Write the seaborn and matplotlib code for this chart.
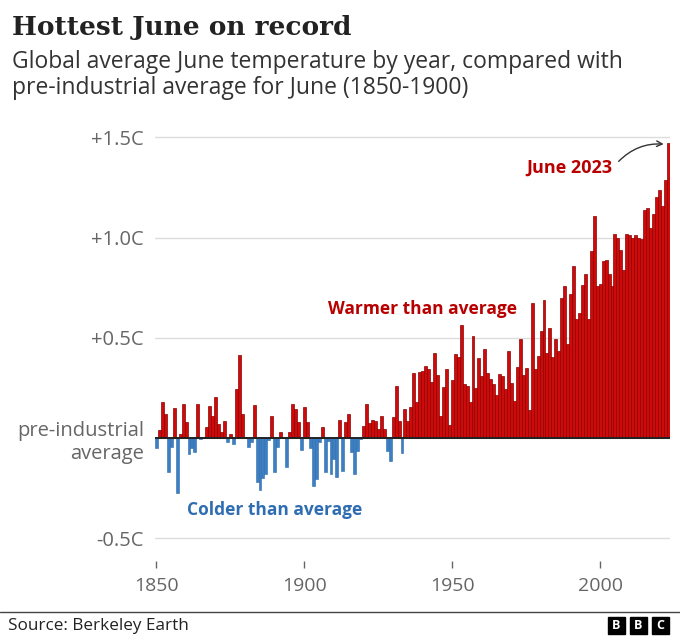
import numpy as np
import pandas as pd
import matplotlib
matplotlib.use('Agg')
import matplotlib.pyplot as plt
from matplotlib.patches import Rectangle
from matplotlib.lines import Line2D
import seaborn as sns

# June anomaly vs 1850-1900 average (C)
v1850s = [-0.05, 0.04, 0.18, 0.12, -0.17, -0.045, 0.15, -0.275, 0.02, 0.17]
v1860s = [0.08, -0.08, -0.05, -0.07, 0.17, -0.005, 0.005, 0.055, 0.16, 0.11]
v1870s = [0.205, 0.07, 0.03, 0.087, -0.02, 0.02, -0.03, 0.247, 0.417, 0.12]
v1880s = [0.005, -0.045, -0.02, 0.167, -0.217, -0.257, -0.2, -0.178, -0.01, 0.113]
v1890s = [-0.167, -0.045, 0.03, 0.007, -0.145, 0.033, 0.172, 0.147, 0.08, -0.057]
v1900s = [0.155, 0.08, -0.05, -0.24, -0.203, -0.02, 0.055, -0.167, -0.013, -0.178]
v1910s = [-0.103, -0.195, 0.093, -0.162, 0.08, 0.122, -0.07, -0.18, -0.065, -0.005]
v1920s = [0.063, 0.168, 0.075, 0.09, 0.085, 0.047, 0.113, 0.047, -0.065, -0.115]
v1930s = [0.108, 0.258, 0.088, -0.075, 0.147, 0.088, 0.155, 0.325, 0.178, 0.328]
v1940s = [0.333, 0.36, 0.345, 0.278, 0.423, 0.315, 0.112, 0.257, 0.343, 0.067]
v1950s = [0.292, 0.42, 0.407, 0.565, 0.27, 0.26, 0.18, 0.51, 0.248, 0.402]
v1960s = [0.308, 0.443, 0.325, 0.295, 0.27, 0.217, 0.318, 0.31, 0.243, 0.433]
v1970s = [0.277, 0.187, 0.357, 0.495, 0.315, 0.352, 0.14, 0.673, 0.345, 0.412]
v1980s = [0.533, 0.69, 0.423, 0.55, 0.407, 0.493, 0.433, 0.70, 0.76, 0.468]
v1990s = [0.72, 0.858, 0.595, 0.623, 0.762, 0.818, 0.593, 0.935, 1.108, 0.757]
v2000s = [0.767, 0.882, 0.89, 0.817, 0.76, 1.02, 0.998, 0.94, 0.837, 1.017]
v2010s = [1.012, 1.0, 1.012, 1.0, 0.995, 1.14, 1.15, 1.048, 1.12, 1.203]
v2020s = [1.237, 1.157, 1.287, 1.47]

years = list(range(1850, 2024))
ytick_vals = [-0.5, 0, 0.5, 1.0, 1.5]
ytick_labels = ['-0.5C', 'pre-industrial\naverage', '+0.5C', '+1.0C', '+1.5C']
xtick_vals = [1850, 1900, 1950, 2000]

values = (v1850s + v1860s + v1870s + v1880s + v1890s + v1900s + v1910s + v1920s
          + v1930s + v1940s + v1950s + v1960s + v1970s + v1980s + v1990s
          + v2000s + v2010s + v2020s)

df = pd.DataFrame({'year': years, 'anomaly': values})
warm = df[df['anomaly'] >= 0]
cold = df[df['anomaly'] < 0]

RED = '#cf0a0a'
RED_EDGE = '#8c0000'
RED_TEXT = '#b80000'
BLUE = '#3d7fc4'
BLUE_TEXT = '#2f6db2'
GREY = '#666666'

sns.set_style('white')
plt.rcParams['font.family'] = ['Open Sans', 'DejaVu Sans']

W, H = 680, 638
fig = plt.figure(figsize=(W / 100, H / 100), dpi=100)
# axes placed so -0.5..1.5 spans the same pixels as the reference
ax = fig.add_axes([155 / W, (H - 542.5) / H, 514.7 / W, 409.2 / H])

sns.barplot(data=warm, x='year', y='anomaly', native_scale=True, color=RED,
            saturation=1, width=1, edgecolor=RED_EDGE, linewidth=0.5,
            errorbar=None, ax=ax, zorder=2)
sns.barplot(data=cold, x='year', y='anomaly', native_scale=True, color=BLUE,
            saturation=1, width=1, edgecolor='#2d6aa8', linewidth=0.4,
            errorbar=None, ax=ax, zorder=2)

ax.set_xlim(1849.5, 2023.5)
ax.set_ylim(-0.52, 1.52)
ax.set_xlabel('')
ax.set_ylabel('')

ax.set_yticks(ytick_vals)
ax.set_yticklabels(ytick_labels)
ax.set_xticks(xtick_vals)
ax.set_xticklabels([str(x) for x in xtick_vals])

ax.yaxis.grid(True, color='#dcdcdc', lw=1)
ax.set_axisbelow(True)
ax.axhline(0, color='#222222', lw=1.4, zorder=3)

for s in ['top', 'right', 'left']:
    ax.spines[s].set_visible(False)
ax.spines['bottom'].set_position(('outward', 13))
ax.spines['bottom'].set_color('none')

ax.tick_params(axis='y', length=0, pad=8, labelsize=14.5, labelcolor=GREY)
ax.tick_params(axis='x', bottom=True, length=5, width=1, color=GREY,
               direction='out', pad=7, labelsize=14, labelcolor=GREY)

# annotations
ax.text(2004, 1.35, 'June 2023', ha='right', va='center', fontsize=13,
        fontweight='bold', color=RED_TEXT)
ax.annotate('', xy=(2022.4, 1.465), xytext=(2005.6, 1.37),
            arrowprops=dict(arrowstyle='->', color='#333333', lw=1,
                            connectionstyle='arc3,rad=-0.25'))
ax.text(1940, 0.645, 'Warmer than average', ha='center', va='center',
        fontsize=12.5, fontweight='bold', color=RED_TEXT)
ax.text(1890, -0.358, 'Colder than average', ha='center', va='center',
        fontsize=12.5, fontweight='bold', color=BLUE_TEXT)

# titles
fig.text(12 / W, 1 - 35 / H, 'Hottest June on record', ha='left', va='baseline',
         fontsize=19, fontweight='bold', family=['DejaVu Serif'], color='#222222')
fig.text(12 / W, 1 - 68.5 / H, 'Global average June temperature by year, compared with',
         ha='left', va='baseline', fontsize=16.5, color='#333333')
fig.text(12 / W, 1 - 94 / H, 'pre-industrial average for June (1850-1900)',
         ha='left', va='baseline', fontsize=16.5, color='#333333')

# footer
fig.add_artist(Line2D([0, 1], [1 - 611.5 / H, 1 - 611.5 / H], transform=fig.transFigure,
                      color='#444444', lw=1))
fig.text(8 / W, 1 - 626 / H, 'Source: Berkeley Earth', ha='left', va='center',
         fontsize=12.3, color='#222222')
for i, letter in enumerate('BBC'):
    x0 = 608 + i * 22
    fig.add_artist(Rectangle((x0 / W, 1 - 634 / H), 17 / W, 17 / H,
                             transform=fig.transFigure, color='black'))
    fig.text((x0 + 8.5) / W, 1 - 625.5 / H, letter, ha='center', va='center',
             fontsize=9, fontweight='bold', color='white')

fig.savefig('out.png', dpi=100)
